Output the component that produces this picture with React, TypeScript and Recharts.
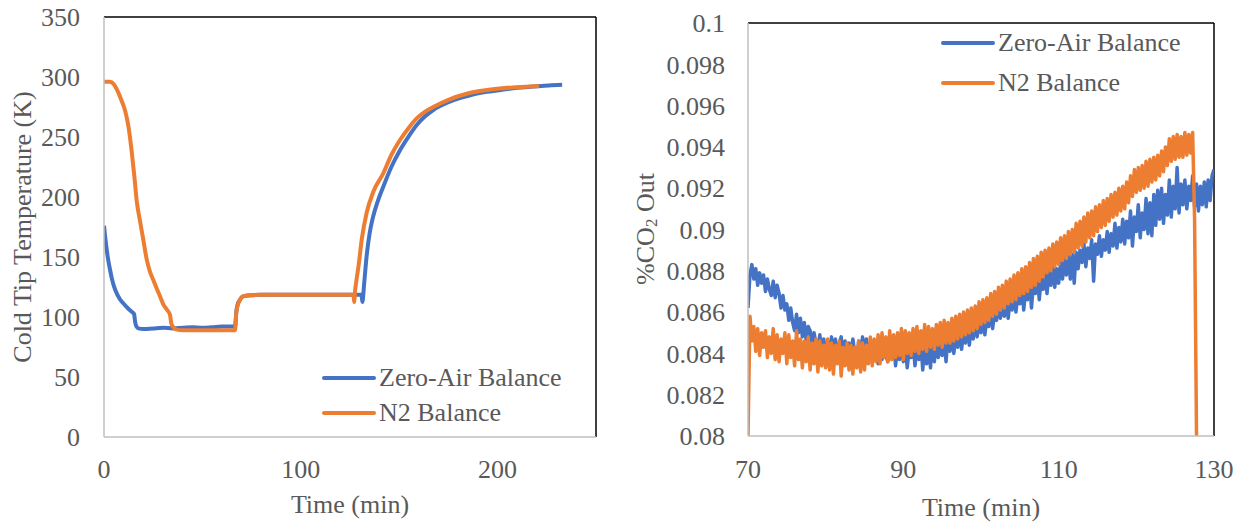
import { Label, Legend, Line, LineChart, ReferenceLine, XAxis, YAxis } from "recharts";

const INK = "#595959";
const AXIS = "#bfbfbf";
const BLUE = "#4472C4";
const ORANGE = "#ED7D31";
const FONT = "Liberation Serif, Times New Roman, serif";

// Left panel: cold tip temperature (K) vs time (min)
const zeroAirTempTime = [
  0, 0.5, 1, 2, 3, 4, 5, 6, 8, 10,
  12, 14, 15.3, 15.8, 16.5, 17.5, 20, 25, 30, 35,
  40, 45, 50, 55, 60, 66.6, 67.2, 68, 69, 70,
  71.5, 73, 80, 90, 100, 110, 120, 130.8, 131.3, 132.2,
  133.4, 135, 136.8, 139, 142, 146, 150.4, 155, 158.9, 163,
  167.3, 175, 184.3, 192, 201, 210, 218, 226, 232.8,
];
const zeroAirTemp = [
  176, 168, 161, 149, 140, 132, 126, 121.5, 115, 111,
  107.5, 104.5, 102.5, 96, 92, 90.5, 90, 90.5, 91, 90.5,
  91, 91.5, 91, 91.5, 92, 92, 104, 111, 114, 116.5,
  117.5, 118, 118.5, 118.5, 118.5, 118.5, 118.5, 118.5, 112.5, 128,
  150, 170, 184, 196, 209, 225, 239, 251, 260, 267,
  272.5, 279, 284, 287, 289, 291, 292, 293, 293.5,
];
const n2TempTime = [
  0, 3, 5, 7, 9, 10.7, 12.5, 14, 15.5, 16.6,
  18.3, 20, 21.7, 23.3, 25, 27, 28.5, 30, 32, 33.5,
  34.3, 35.5, 37, 40, 50, 60, 66.6, 67.2, 68, 69,
  70, 71.5, 73, 80, 100, 120, 126.8, 127.1, 127.6, 128.4,
  129.3, 131, 133.4, 137, 142, 146, 150.4, 155, 158.9, 163,
  167.3, 175, 184.3, 192, 201, 210, 221,
];
const n2Temp = [
  296, 296, 294, 288, 280, 272, 258, 239, 216, 197,
  180, 164, 148, 138, 131, 123, 117, 111, 106, 102,
  94, 91, 89.5, 89, 89, 89, 89, 103, 110, 114,
  116.5, 117.5, 118, 118.5, 118.5, 118.5, 118.5, 112.5, 122, 132,
  142, 165, 186.5, 205, 220, 235, 247.5, 258, 265.5, 271,
  275, 281, 286, 288.5, 290.5, 291.5, 292.5,
];
const tempTicks = [0, 50, 100, 150, 200, 250, 300, 350];
const tempTimeTicks = [0, 100, 200];

// Right panel: %CO2 out, one reading every quarter minute from 70 min (one row per minute)
const co2Start = 70;
const co2Step = 0.25;
const zeroAirCo2 = [
  0.0862, 0.0878, 0.0883, 0.0876, // 70
  0.0881, 0.0873, 0.0879, 0.0874,
  0.0878, 0.0870, 0.0876, 0.0871,
  0.0868, 0.0875, 0.0867, 0.0873,
  0.0869, 0.0862, 0.0868, 0.0861,
  0.0864, 0.0856, 0.0862, 0.0855, // 75
  0.0851, 0.0859, 0.0850, 0.0857,
  0.0848, 0.0855, 0.0846, 0.0853,
  0.0851, 0.0844, 0.0850, 0.0845,
  0.0842, 0.0849, 0.0840, 0.0847,
  0.0837, 0.0846, 0.0839, 0.0848, // 80
  0.0840, 0.0847, 0.0838, 0.0845,
  0.0848, 0.0839, 0.0846, 0.0837,
  0.0845, 0.0838, 0.0847, 0.0840,
  0.0836, 0.0846, 0.0839, 0.0848,
  0.0841, 0.0847, 0.0837, 0.0845, // 85
  0.0838, 0.0846, 0.0840, 0.0835,
  0.0845, 0.0837, 0.0847, 0.0839,
  0.0836, 0.0844, 0.0838, 0.0846,
  0.0834, 0.0843, 0.0837, 0.0845,
  0.0836, 0.0844, 0.0833, 0.0842, // 90
  0.0838, 0.0845, 0.0834, 0.0843,
  0.0837, 0.0846, 0.0832, 0.0844,
  0.0835, 0.0843, 0.0833, 0.0847,
  0.0836, 0.0848, 0.0838, 0.0845,
  0.0839, 0.0847, 0.0836, 0.0849, // 95
  0.0841, 0.0850, 0.0840, 0.0848,
  0.0843, 0.0852, 0.0842, 0.0850,
  0.0845, 0.0854, 0.0844, 0.0853,
  0.0847, 0.0857, 0.0848, 0.0855,
  0.0850, 0.0859, 0.0849, 0.0857, // 100
  0.0853, 0.0862, 0.0852, 0.0860,
  0.0856, 0.0864, 0.0857, 0.0863,
  0.0858, 0.0867, 0.0857, 0.0866,
  0.0861, 0.0870, 0.0860, 0.0869,
  0.0864, 0.0872, 0.0861, 0.0871, // 105
  0.0866, 0.0876, 0.0862, 0.0874,
  0.0869, 0.0878, 0.0866, 0.0876,
  0.0871, 0.0879, 0.0869, 0.0880,
  0.0873, 0.0882, 0.0872, 0.0881,
  0.0874, 0.0884, 0.0876, 0.0886, // 110
  0.0878, 0.0887, 0.0876, 0.0888,
  0.0874, 0.0889, 0.0881, 0.0890,
  0.0884, 0.0893, 0.0882, 0.0891,
  0.0886, 0.0895, 0.0875, 0.0893,
  0.0888, 0.0897, 0.0887, 0.0895, // 115
  0.0890, 0.0899, 0.0889, 0.0898,
  0.0892, 0.0903, 0.0891, 0.0901,
  0.0894, 0.0905, 0.0893, 0.0904,
  0.0896, 0.0909, 0.0892, 0.0906,
  0.0899, 0.0912, 0.0896, 0.0908, // 120
  0.0900, 0.0915, 0.0898, 0.0913,
  0.0897, 0.0917, 0.0902, 0.0919,
  0.0905, 0.0920, 0.0903, 0.0917,
  0.0907, 0.0924, 0.0906, 0.0921,
  0.0910, 0.0930, 0.0908, 0.0922, // 125
  0.0912, 0.0924, 0.0910, 0.0921,
  0.0914, 0.0926, 0.0911, 0.0922,
  0.0909, 0.0921, 0.0912, 0.0923,
  0.0911, 0.0924, 0.0914, 0.0926,
  0.0929, // 130
];
const n2Co2 = [
  0.0800, 0.0858, 0.0846, 0.0853, // 70
  0.0841, 0.0852, 0.0839, 0.0850,
  0.0843, 0.0851, 0.0838, 0.0848,
  0.0840, 0.0852, 0.0837, 0.0849,
  0.0836, 0.0847, 0.0840, 0.0850,
  0.0835, 0.0849, 0.0838, 0.0846, // 75
  0.0834, 0.0851, 0.0837, 0.0847,
  0.0833, 0.0846, 0.0836, 0.0848,
  0.0832, 0.0845, 0.0835, 0.0847,
  0.0831, 0.0846, 0.0834, 0.0844,
  0.0833, 0.0847, 0.0832, 0.0845, // 80
  0.0830, 0.0844, 0.0835, 0.0846,
  0.0829, 0.0843, 0.0834, 0.0845,
  0.0832, 0.0844, 0.0830, 0.0843,
  0.0833, 0.0846, 0.0831, 0.0845,
  0.0832, 0.0844, 0.0835, 0.0848, // 85
  0.0834, 0.0847, 0.0836, 0.0849,
  0.0835, 0.0850, 0.0838, 0.0848,
  0.0836, 0.0851, 0.0837, 0.0849,
  0.0838, 0.0850, 0.0839, 0.0852,
  0.0837, 0.0851, 0.0840, 0.0850, // 90
  0.0839, 0.0852, 0.0841, 0.0853,
  0.0840, 0.0851, 0.0842, 0.0854,
  0.0841, 0.0853, 0.0843, 0.0852,
  0.0842, 0.0854, 0.0844, 0.0855,
  0.0843, 0.0856, 0.0845, 0.0855, // 95
  0.0845, 0.0857, 0.0846, 0.0858,
  0.0847, 0.0859, 0.0848, 0.0860,
  0.0849, 0.0861, 0.0850, 0.0862,
  0.0851, 0.0863, 0.0852, 0.0865,
  0.0854, 0.0866, 0.0855, 0.0867, // 100
  0.0856, 0.0869, 0.0858, 0.0870,
  0.0859, 0.0872, 0.0861, 0.0873,
  0.0862, 0.0875, 0.0864, 0.0876,
  0.0865, 0.0878, 0.0866, 0.0879,
  0.0868, 0.0881, 0.0869, 0.0882, // 105
  0.0870, 0.0884, 0.0872, 0.0886,
  0.0873, 0.0887, 0.0875, 0.0889,
  0.0877, 0.0890, 0.0879, 0.0891,
  0.0880, 0.0893, 0.0882, 0.0894,
  0.0883, 0.0896, 0.0885, 0.0897, // 110
  0.0886, 0.0899, 0.0888, 0.0900,
  0.0889, 0.0903, 0.0891, 0.0904,
  0.0892, 0.0906, 0.0894, 0.0908,
  0.0896, 0.0909, 0.0897, 0.0911,
  0.0899, 0.0912, 0.0901, 0.0914, // 115
  0.0902, 0.0915, 0.0904, 0.0917,
  0.0906, 0.0918, 0.0907, 0.0920,
  0.0909, 0.0921, 0.0910, 0.0923,
  0.0913, 0.0926, 0.0916, 0.0929,
  0.0918, 0.0930, 0.0919, 0.0931, // 120
  0.0920, 0.0933, 0.0921, 0.0934,
  0.0923, 0.0935, 0.0924, 0.0936,
  0.0926, 0.0938, 0.0928, 0.0940,
  0.0931, 0.0944, 0.0933, 0.0945,
  0.0934, 0.0946, 0.0935, 0.0945, // 125
  0.0935, 0.0947, 0.0936, 0.0946,
  0.0937, 0.0947, 0.0905, 0.0800,
];
const co2Ticks = [0.08, 0.082, 0.084, 0.086, 0.088, 0.09, 0.092, 0.094, 0.096, 0.098, 0.1];
const co2TimeTicks = [70, 90, 110, 130];

const seriesNames = ["Zero-Air Balance", "N2 Balance"];
const seriesColors = [BLUE, ORANGE];

const pair = (ts: number[], vs: number[]) => ts.map((t, i) => ({ t, v: vs[i] }));
const sampled = (vs: number[]) => vs.map((v, i) => ({ t: co2Start + i * co2Step, v }));

const tickStyle = { fill: INK, fontSize: 26, fontFamily: FONT };

function SeriesLegend({ rowHeight }: { rowHeight: number }) {
  return (
    <div style={{ fontFamily: FONT, fontSize: 26, color: INK, lineHeight: `${rowHeight}px` }}>
      {seriesNames.map((name, i) => (
        <div key={name} style={{ display: "flex", alignItems: "center", whiteSpace: "nowrap" }}>
          <span
            style={{
              display: "inline-block",
              width: 54,
              height: 4,
              borderRadius: 2,
              background: seriesColors[i],
              marginRight: 3,
            }}
          />
          {name}
        </div>
      ))}
    </div>
  );
}

function Title({ x, y, vertical, children }: { x: number; y: number; vertical?: boolean; children: any }) {
  return (
    <text
      x={x}
      y={y}
      textAnchor="middle"
      dominantBaseline="central"
      transform={vertical ? `rotate(-90 ${x} ${y})` : undefined}
      fill={INK}
      fontSize={26}
      fontFamily={FONT}
    >
      {children}
    </text>
  );
}

function TemperaturePanel() {
  return (
    <LineChart width={620} height={523} margin={{ top: 17, right: 24, bottom: 0, left: 0 }}>
      <XAxis
        type="number"
        dataKey="t"
        domain={[0, 250]}
        ticks={tempTimeTicks}
        allowDataOverflow
        height={86}
        tickLine={false}
        tickSize={0}
        tickMargin={23}
        axisLine={{ stroke: AXIS, strokeWidth: 1.5 }}
        tick={tickStyle}
      >
        <Label content={() => <Title x={350} y={504}>Time (min)</Title>} />
      </XAxis>
      <YAxis
        type="number"
        domain={[0, 350]}
        ticks={tempTicks}
        width={104}
        tickLine={false}
        tickSize={0}
        tickMargin={24}
        axisLine={{ stroke: AXIS, strokeWidth: 1.5 }}
        tick={tickStyle}
      >
        <Label content={() => <Title x={22} y={227} vertical>Cold Tip Temperature (K)</Title>} />
      </YAxis>
      <ReferenceLine y={350} stroke="#000" strokeWidth={1.5} />
      <ReferenceLine x={250} stroke="#000" strokeWidth={1.5} />
      <Line
        data={pair(zeroAirTempTime, zeroAirTemp)}
        dataKey="v"
        type="monotone"
        stroke={BLUE}
        strokeWidth={4}
        dot={false}
        isAnimationActive={false}
      />
      <Line
        data={pair(n2TempTime, n2Temp)}
        dataKey="v"
        type="monotone"
        stroke={ORANGE}
        strokeWidth={4}
        dot={false}
        isAnimationActive={false}
      />
      <Legend
        layout="vertical"
        align="center"
        verticalAlign="middle"
        wrapperStyle={{ left: 322, top: 360, width: "auto" }}
        content={() => <SeriesLegend rowHeight={35} />}
      />
    </LineChart>
  );
}

function Co2Panel() {
  return (
    <LineChart width={622} height={523} margin={{ top: 23, right: 28, bottom: 0, left: 0 }}>
      <XAxis
        type="number"
        dataKey="t"
        domain={[70, 130]}
        ticks={co2TimeTicks}
        allowDataOverflow
        height={87}
        tickLine={false}
        tickSize={0}
        tickMargin={24}
        axisLine={{ stroke: AXIS, strokeWidth: 1.5 }}
        tick={tickStyle}
      >
        <Label content={() => <Title x={361} y={507}>Time (min)</Title>} />
      </XAxis>
      <YAxis
        type="number"
        domain={[0.08, 0.1]}
        ticks={co2Ticks}
        allowDataOverflow
        width={128}
        tickLine={false}
        tickSize={0}
        tickMargin={23}
        axisLine={{ stroke: AXIS, strokeWidth: 1.5 }}
        tick={tickStyle}
      >
        <Label
          content={() => (
            <Title x={25} y={229} vertical>
              %CO<tspan dy={6} fontSize={17}>2</tspan>
              <tspan dy={-6}> Out</tspan>
            </Title>
          )}
        />
      </YAxis>
      <ReferenceLine y={0.1} stroke="#000" strokeWidth={1.5} />
      <ReferenceLine x={130} stroke="#000" strokeWidth={1.5} />
      <Line
        data={sampled(zeroAirCo2)}
        dataKey="v"
        type="linear"
        stroke={BLUE}
        strokeWidth={3.5}
        strokeLinejoin="round"
        dot={false}
        isAnimationActive={false}
      />
      <Line
        data={sampled(n2Co2)}
        dataKey="v"
        type="linear"
        stroke={ORANGE}
        strokeWidth={3.5}
        strokeLinejoin="round"
        dot={false}
        isAnimationActive={false}
      />
      <Legend
        layout="vertical"
        align="center"
        verticalAlign="middle"
        wrapperStyle={{ left: 321, top: 23, width: "auto" }}
        content={() => <SeriesLegend rowHeight={40} />}
      />
    </LineChart>
  );
}

export default function App() {
  return (
    <div
      style={{
        position: "absolute",
        left: 0,
        top: 0,
        width: 1242,
        height: 523,
        background: "#fff",
        fontFamily: FONT,
      }}
    >
      <div style={{ position: "absolute", left: 0, top: 0 }}>
        <TemperaturePanel />
      </div>
      <div style={{ position: "absolute", left: 620, top: 0 }}>
        <Co2Panel />
      </div>
    </div>
  );
}
